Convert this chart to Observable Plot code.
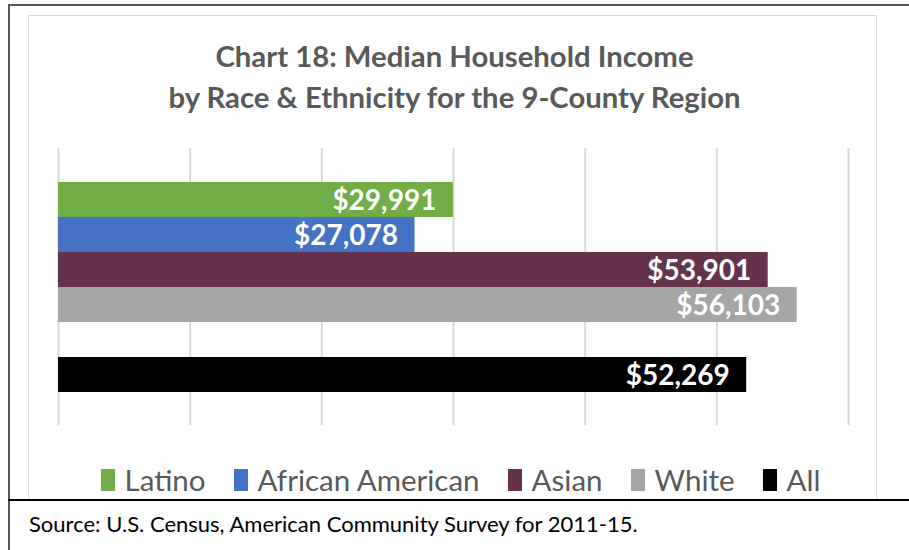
<!DOCTYPE html>
<html>
<head>
<meta charset="utf-8">
<script src="https://cdn.jsdelivr.net/npm/d3@7"></script>
<script src="https://cdn.jsdelivr.net/npm/@observablehq/plot@0.6"></script>
<style>
  html, body { margin: 0; padding: 0; background: #fff; }
  #wrap { position: relative; width: 909px; height: 550px; overflow: hidden; font-family: Lato, "Open Sans", sans-serif; }
  .frame { position: absolute; }
  #title { position: absolute; left: 0; width: 909px; top: 35px; text-align: center; font-weight: bold; font-size: 29.3px; line-height: 41px; color: #595959; }
  #chart { position: absolute; left: 0; top: 140px; }
  #legend { position: absolute; top: 462px; left: 6px; width: 909px; display: flex; justify-content: center; gap: 0; font-size: 29.5px; color: #595959; }
  .item { display: flex; align-items: center; margin: 0 14px; }
  .sw { width: 14px; height: 22px; margin-right: 10px; }
  #source { position: absolute; left: 29px; top: 510px; font-size: 22px; color: #000; }
</style>
</head>
<body>
<div id="wrap">
  <div class="frame" style="left:8px;top:4px;width:901px;height:2px;background:#555;"></div>
  <div class="frame" style="left:8px;top:4px;width:2px;height:546px;background:#555;"></div>
  <div class="frame" style="left:28px;top:15px;width:849px;height:486px;border:1.5px solid #d9d9d9;border-bottom:none;box-sizing:border-box;"></div>
  <div class="frame" style="left:8px;top:499px;width:901px;height:2px;background:#000;"></div>
  <div id="title">Chart 18: Median Household Income<br>by Race &amp; Ethnicity for the 9-County Region</div>
  <div id="chart"></div>
  <div id="legend"></div>
  <div id="source">Source: U.S. Census, American Community Survey for 2011-15.</div>
</div>
<script>
const categories = ["Latino", "African American", "Asian", "White", "All"];
const incomes = [29991, 27078, 53901, 56103, 52269];
const colors = ["#70ad47", "#4472c4", "#64334b", "#a5a5a5", "#000000"];
const xTicks = [0, 10000, 20000, 30000, 40000, 50000, 60000];
const slots = ["Latino", "African American", "Asian", "White", " ", "All"];

const data = categories.map((c, i) => ({category: c, income: incomes[i]}));
const fmt = d3.format("$,");

const plot = Plot.plot({
  width: 909,
  height: 300,
  marginLeft: 58,
  marginRight: 61,
  marginTop: 8,
  marginBottom: 15,
  x: {domain: [0, 60000], axis: null},
  y: {domain: slots, axis: null, paddingInner: 0, paddingOuter: 0.9},
  color: {domain: categories, range: colors},
  style: {fontFamily: "Lato, 'Open Sans', sans-serif", background: "transparent"},
  marks: [
    Plot.ruleX(xTicks, {stroke: "#d9d9d9", strokeWidth: 2}),
    Plot.barX(data, {x: "income", y: "category", fill: "category"}),
    Plot.text(data, {x: "income", y: "category", text: d => fmt(d.income), textAnchor: "end", dx: -17, dy: 1, fill: "white", fontWeight: "bold", fontSize: 28})
  ]
});
document.getElementById("chart").appendChild(plot);

const color = plot.scale("color");
const legend = document.getElementById("legend");
categories.forEach(c => {
  const item = document.createElement("div");
  item.className = "item";
  const sw = document.createElement("div");
  sw.className = "sw";
  sw.style.background = color.apply(c);
  const t = document.createElement("span");
  t.textContent = c;
  item.appendChild(sw);
  item.appendChild(t);
  legend.appendChild(item);
});
</script>
</body>
</html>
